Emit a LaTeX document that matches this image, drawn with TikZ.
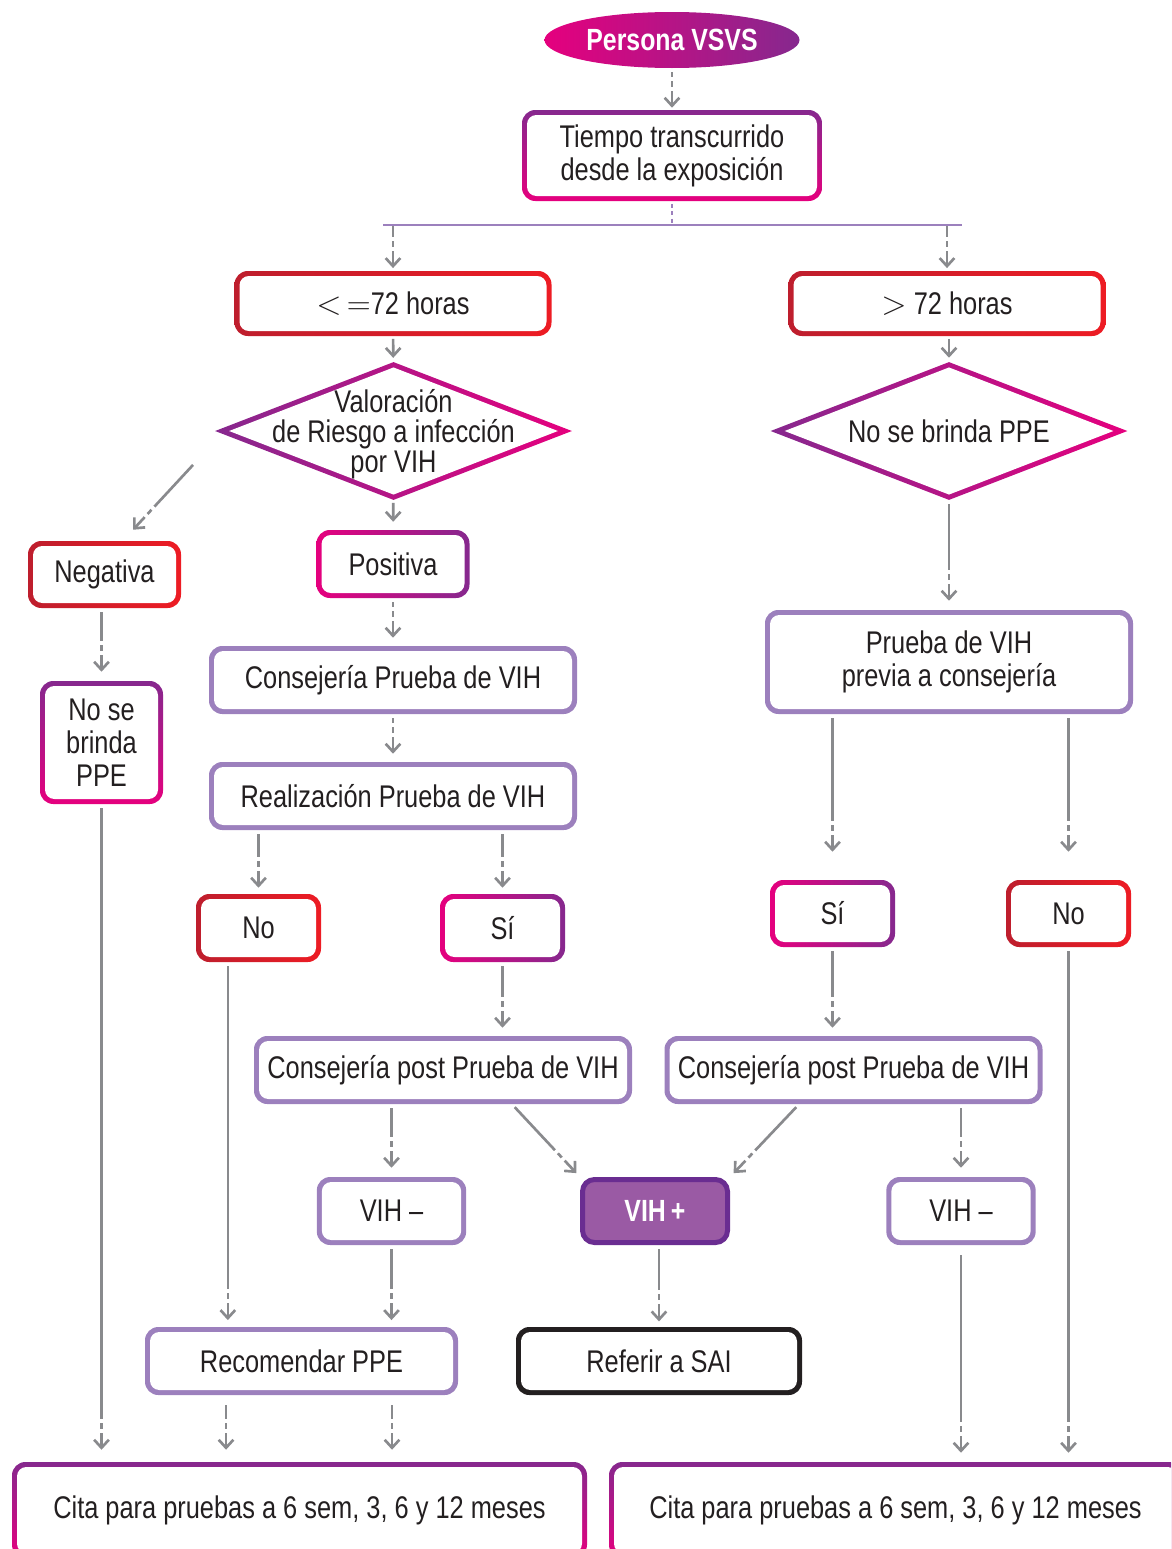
\documentclass[tikz,border=0pt]{standalone}
\usepackage{fontspec}
\setmainfont{Liberation Sans}[FakeStretch=0.81]
\usepackage{tikz}
\usetikzlibrary{calc,positioning,shapes.geometric,arrows.meta,decorations.markings}
\definecolor{hotmagenta}{HTML}{E5007E}
\definecolor{grapepurple}{HTML}{86288E}
\definecolor{brightred}{HTML}{ED1C24}
\definecolor{darkred}{HTML}{BE1E2D}
\definecolor{lilac}{HTML}{9C80BD}
\definecolor{vihfill}{HTML}{9A5AA4}
\definecolor{vihedge}{HTML}{6A2D91}
\definecolor{arrowgray}{HTML}{898A8D}
\definecolor{inkblack}{HTML}{231F20}
\tikzset{
boxtext/.style={text=inkblack, font=\fontsize{23.5}{24.75}\selectfont, align=center},
framed/.style={rectangle, rounded corners=10pt, inner sep=0pt, boxtext,
   path picture={\fill[white, rounded corners=7pt]
     ([shift={(3.75pt,3.75pt)}]path picture bounding box.south west) rectangle
     ([shift={(-3.75pt,-3.75pt)}]path picture bounding box.north east);}},
redbox/.style={framed, left color=darkred, right color=brightred},
pinkbox/.style={framed, left color=hotmagenta, right color=grapepurple},
grapebox/.style={framed, top color=grapepurple, bottom color=hotmagenta},
lilacbox/.style={framed, fill=lilac},
saibox/.style={framed, fill=inkblack},
vihbox/.style={rectangle, rounded corners=9pt, draw=vihedge, line width=3.75pt, fill=vihfill,
   minimum width=108.75pt, minimum height=47.25pt, inner sep=0pt, text=white,
   font=\bfseries\fontsize{23}{24}\selectfont},
startpill/.style={ellipse, inner sep=0pt, minimum width=191.25pt, minimum height=42pt,
   left color=hotmagenta, right color=grapepurple, text=white,
   font=\bfseries\fontsize{23}{24}\selectfont},
decision/.style={diamond, inner sep=0pt, minimum width=267.75pt, minimum height=103.5pt,
   left color=grapepurple, right color=hotmagenta,
   path picture={\fill[white] ([xshift=10.5pt]path picture bounding box.west)
     -- ([yshift=-4pt]path picture bounding box.north)
     -- ([xshift=-10.5pt]path picture bounding box.east)
     -- ([yshift=4pt]path picture bounding box.south) -- cycle;}},
splitline/.style={draw=lilac, line width=2.2pt},
connshort/.style={draw=arrowgray, line width=2pt, shorten <=2pt, shorten >=#1,
   -{Straight Barb[length=6pt,width=11pt]}},
connshort/.default=3pt,
conn/.style={draw=arrowgray, line width=2pt, shorten <=3pt, shorten >=#1,
   -{Straight Barb[length=6pt,width=11pt]},
   postaction={decorate, decoration={markings,
     mark=at position -0.1pt with {\draw[white, line width=4pt, -, shorten <=0pt, shorten >=0pt]
       ({-(#1)-23.25pt},0) -- ({-(#1)-20.25pt},0)
       ({-(#1)-15.75pt},0) -- ({-(#1)-12.75pt},0);}}}},
conn/.default=6pt
}
\begin{document}
\begin{tikzpicture}[x=0.75pt,y=-0.75pt]
\useasboundingbox (0,0) rectangle (1171,1549);
\clip (0,0) rectangle (1171,1549);
%Ellipse
\node[startpill] (vsvs) at (672,40) {Persona VSVS};
%Rounded Rect
\node[grapebox, minimum width=225pt, minimum height=68.25pt] (tiempo) at (672,155.5) {Tiempo transcurrido\\desde la exposición};
\node[redbox, minimum width=237.75pt, minimum height=48.75pt] (menos) at (393,303.5) {$<$\,$=$72 horas};
\node[redbox, minimum width=237.75pt, minimum height=48.75pt] (mas) at (947,303.5) {$>$ 72 horas};
%Diamond
\node[decision, label={[boxtext, font=\fontsize{23.5}{22.5}\selectfont, yshift=-2.5pt]center:{Valoración\\de Riesgo a infección\\por VIH}}] (val) at (393.5,431) {};
\node[decision, label={[boxtext]center:{No se brinda PPE}}] (nobr) at (949,431) {};
\node[redbox, minimum width=114.75pt, minimum height=50.25pt] (neg) at (104.5,574.5) {Negativa};
\node[pinkbox, minimum width=114.75pt, minimum height=51pt] (pos) at (393,564) {Positiva};
\node[grapebox, minimum width=92.25pt, minimum height=92.25pt] (noppe) at (101.5,742.5) {No se\\brinda\\PPE};
\node[lilacbox, minimum width=276pt, minimum height=51pt] (consej) at (393,680) {Consejería Prueba de VIH};
\node[lilacbox, minimum width=276pt, minimum height=51pt] (realiz) at (393,796) {Realización Prueba de VIH};
\node[lilacbox, minimum width=276pt, minimum height=78pt] (previa) at (949,662) {Prueba de VIH\\previa a consejería};
\node[redbox, minimum width=93.75pt, minimum height=51pt] (nol) at (258.5,928) {No};
\node[pinkbox, minimum width=93.75pt, minimum height=51pt] (sil) at (502.5,928) {Sí};
\node[pinkbox, minimum width=93.75pt, minimum height=50.25pt] (sir) at (832.5,913.5) {Sí};
\node[redbox, minimum width=93.75pt, minimum height=50.25pt] (nor) at (1068.5,913.5) {No};
\node[lilacbox, minimum width=283.5pt, minimum height=51pt] (postl) at (443,1070) {Consejería post Prueba de VIH};
\node[lilacbox, minimum width=283.5pt, minimum height=51pt] (postr) at (853.5,1070) {Consejería post Prueba de VIH};
\node[lilacbox, minimum width=112pt, minimum height=51pt] (vihnl) at (391.5,1211) {VIH –};
\node[vihbox] (vihp) at (655,1211) {VIH\,+};
\node[lilacbox, minimum width=112pt, minimum height=51pt] (vihnr) at (961,1211) {VIH –};
\node[lilacbox, minimum width=234.75pt, minimum height=51pt] (recom) at (301.5,1361) {Recomendar PPE};
\node[saibox, minimum width=214.5pt, minimum height=51pt] (sai) at (659,1361) {Referir a SAI};
\node[grapebox, minimum width=431.25pt, minimum height=72pt] (cital) at (299.5,1510) {Cita para pruebas a 6 sem, 3, 6 y 12 meses};
\node[grapebox, minimum width=429.75pt, minimum height=72pt] (citar) at (895.5,1510) {Cita para pruebas a 6 sem, 3, 6 y 12 meses};
%Split
\coordinate (splitmid) at (672,225);
\coordinate (splitl) at (383,225);
\coordinate (splitr) at (962,225);
\coordinate (hl) at (splitl -| menos);
\coordinate (hr) at (splitr -| mas);
\coordinate (negfrom) at ($(val.west)+(-19,31)$);
\coordinate (negto) at ($(neg.north)+(28.5,-11)$);
\draw[conn=1.5pt] (vsvs) -- (tiempo);
\draw[splitline, dash pattern=on 3pt off 2.5pt, shorten <=2pt] (tiempo) -- (splitmid);
\draw[splitline] (splitl) -- (splitr);
\draw[conn=2pt, shorten <=1pt] (hl) -- (menos);
\draw[conn=2pt, shorten <=1pt] (hr) -- (mas);
\draw[connshort] (menos) -- (val);
\draw[connshort] (mas.south -| nobr.north) -- (nobr.north);
\draw[conn=0pt] (negfrom) -- (negto);
\draw[connshort=6pt] (val) -- (pos);
\draw[conn=6.75pt] (neg.south -| noppe.north) -- (noppe.north);
\draw[conn=6pt] (pos) -- (consej);
\draw[conn=6pt] (consej) -- (realiz);
\draw[conn=4.5pt] (realiz.south -| nol.north) -- (nol.north);
\draw[conn=4.5pt] (realiz.south -| sil.north) -- (sil.north);
\draw[conn=6pt] (sil) -- (sil |- postl.north);
\draw[conn=5pt] ([xshift=-23pt]nol.south) -- ([xshift=-23pt]nol.south |- recom.north);
\draw[conn=6.75pt] (postl.south -| vihnl.north) -- (vihnl.north);
\draw[conn=4pt] ([xshift=51.75pt]postl.south) -- (vihp.north west);
\draw[conn=4pt] ([xshift=-40.9pt]postr.south) -- (vihp.north east);
\draw[conn=6.75pt] (postr.south -| vihnr.north) -- (vihnr.north);
\draw[conn=4pt] (vihp.south -| sai.north) -- (sai.north);
\draw[conn=5pt] (vihnl) -- (vihnl |- recom.north);
\draw[conn=9pt] (noppe) -- (noppe |- cital.north);
\draw[conn=9pt, shorten <=7.5pt] ([xshift=-56.6pt]recom.south) -- ([xshift=-56.6pt]recom.south |- cital.north);
\draw[conn=9pt, shorten <=7.5pt] ([xshift=67.9pt]recom.south) -- ([xshift=67.9pt]recom.south |- cital.north);
\draw[conn=6.75pt] (nobr) -- (previa);
\draw[conn=21pt] (previa.south -| sir.north) -- (sir.north);
\draw[conn=21pt] (previa.south -| nor.north) -- (nor.north);
\draw[conn=6pt] (sir) -- (sir |- postr.north);
\draw[conn=6.75pt] (nor) -- (nor |- citar.north);
\draw[conn=6.75pt, shorten <=7.5pt] (vihnr) -- (vihnr |- citar.north);
\end{tikzpicture}
\end{document}
